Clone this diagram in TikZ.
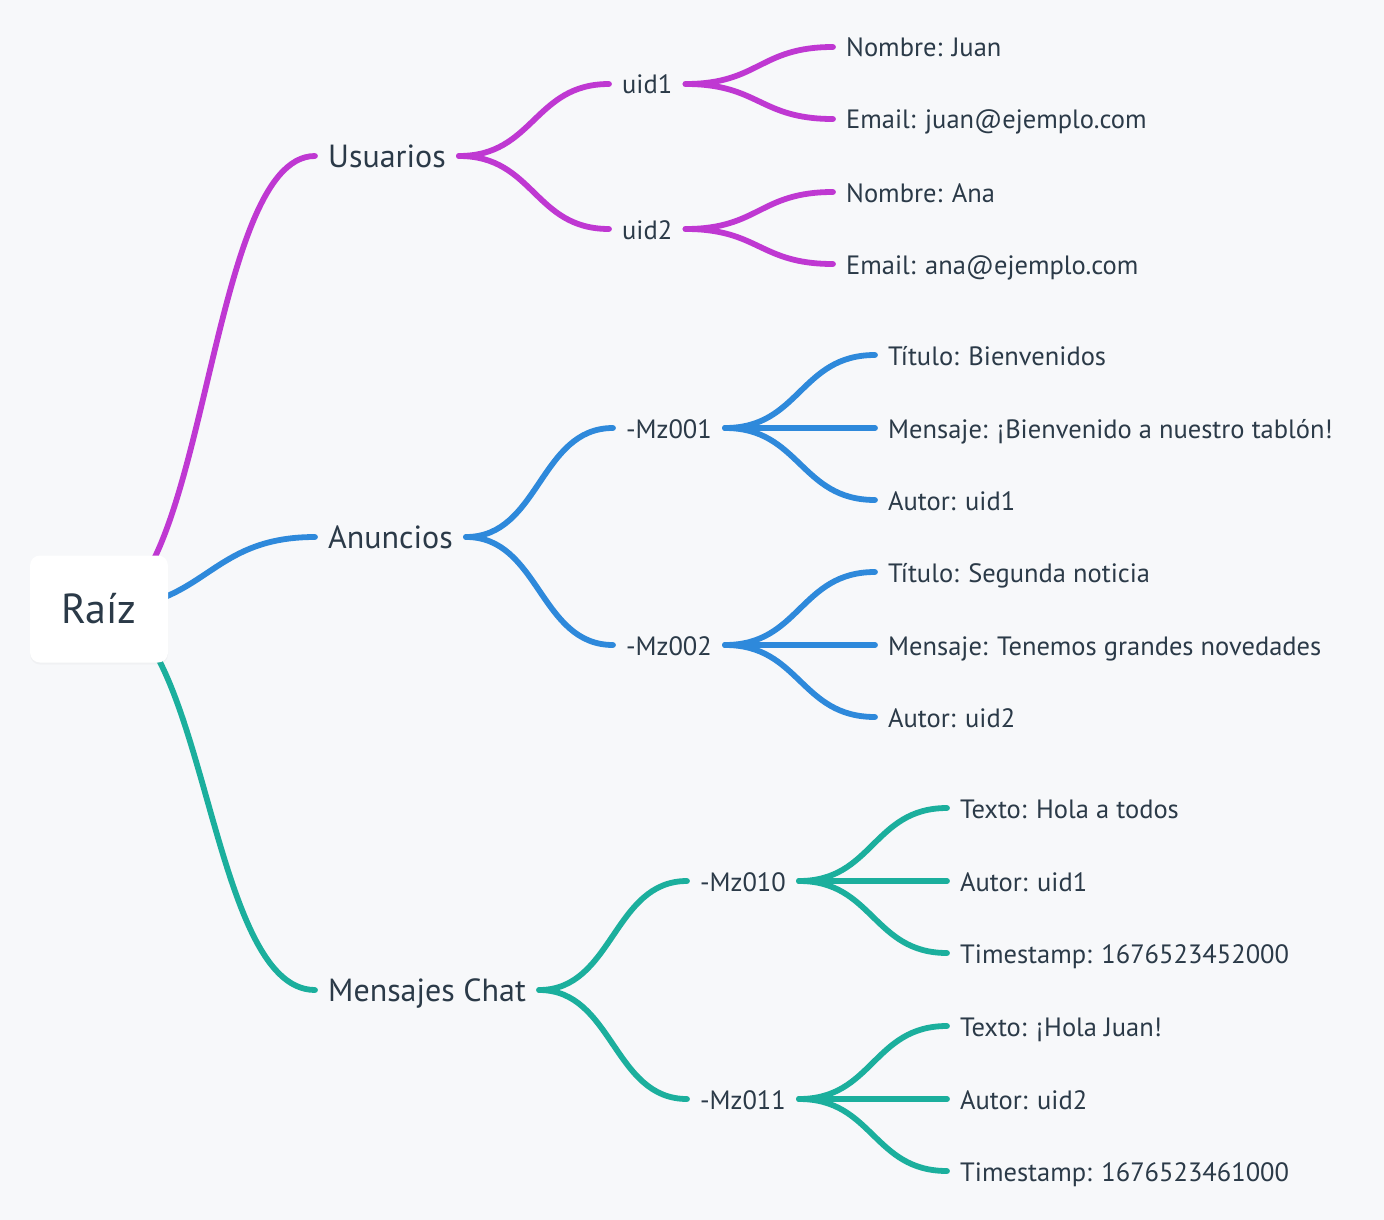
\documentclass[tikz,border=0pt]{standalone}
\usepackage{fontspec}
\setmainfont{PT Sans}
\usetikzlibrary{calc,backgrounds,shadows}
\definecolor{bgcol}{HTML}{F7F8FA}
\definecolor{inkcol}{HTML}{2B3A48}
\definecolor{usrcol}{HTML}{BF38D2}
\definecolor{anncol}{HTML}{2E89DB}
\definecolor{chatcol}{HTML}{1BAF9D}
\tikzset{
  mapcurve/.style = {to path = {let \p1 = (\tikztostart), \p2 = (\tikztotarget) in
      .. controls ({(\x1+\x2)/2},\y1) and ({(\x1+\x2)/2},\y2) .. (\tikztotarget)}},
  branch/.style = {line width = 5.8pt, line cap = round},
  rootbox/.style = {rounded corners = 10pt, fill = white, text = inkcol,
    minimum width = 138pt, minimum height = 107pt,
    text height = 28pt, text depth = 0pt,
    font = \fontsize{42}{48}\selectfont,
    drop shadow = {opacity = .05, shadow xshift = 0pt, shadow yshift = -2pt}},
  hub/.style = {anchor = west, inner xsep = 13pt, inner ysep = 0pt, text = inkcol,
    text height = 23pt, text depth = 0pt, font = \fontsize{32}{38}\selectfont},
  key/.style = {hub, text height = 20pt, font = \fontsize{26.5}{31}\selectfont},
  field/.style = {key}
}
\begin{document}
\begin{tikzpicture}[x = 1pt, y = -1pt]
  \begin{scope}[on background layer]
    \fill [bgcol] (0,0) rectangle (1384,1220);
  \end{scope}

  % root and first level
  \node [rootbox] (root) at (99,609) {Raíz};
  \node [hub] (usr) at (315,156) {Usuarios};
  \node [hub] (ann) at (315,537) {Anuncios};
  \node [hub] (chat) at (315,990) {Mensajes Chat};

  % Usuarios
  \node [key] (uid1) at (609,84) {uid1};
  \node [key] (uid2) at (609,229) {uid2};
  \node [field] (nom1) at (833,47) {Nombre: Juan};
  \node [field] (mail1) at (833,119) {Email: juan@ejemplo.com};
  \node [field] (nom2) at (833,192) {Nombre: Ana};
  \node [field] (mail2) at (833,264) {Email: ana@ejemplo.com};

  % Anuncios
  \node [key] (mz1) at (613,428) {-Mz001};
  \node [key] (mz2) at (613,645) {-Mz002};
  \node [field] (tit1) at (875,355) {Título: Bienvenidos};
  \node [field] (msg1) at (875,428) {Mensaje: ¡Bienvenido a nuestro tablón!};
  \node [field] (aut1) at (875,500) {Autor: uid1};
  \node [field] (tit2) at (875,572) {Título: Segunda noticia};
  \node [field] (msg2) at (875,645) {Mensaje: Tenemos grandes novedades};
  \node [field] (aut2) at (875,717) {Autor: uid2};

  % Mensajes Chat
  \node [key] (mz10) at (687,881) {-Mz010};
  \node [key] (mz11) at (687,1099) {-Mz011};
  \node [field] (txt1) at (947,808) {Texto: Hola a todos};
  \node [field] (aut3) at (947,881) {Autor: uid1};
  \node [field] (ts1) at (947,953) {Timestamp: 1676523452000};
  \node [field] (txt2) at (947,1026) {Texto: ¡Hola Juan!};
  \node [field] (aut4) at (947,1099) {Autor: uid2};
  \node [field] (ts2) at (947,1171) {Timestamp: 1676523461000};

  \begin{scope}[on background layer]
    \draw [branch, usrcol] (root.center) to [mapcurve] (usr.west);
    \draw [branch, anncol] (root.center) to [mapcurve] (ann.west);
    \draw [branch, chatcol] (root.center) to [mapcurve] (chat.west);

    \draw [branch, usrcol] (usr.east) to [mapcurve] (uid1.west);
    \draw [branch, usrcol] (usr.east) to [mapcurve] (uid2.west);
    \draw [branch, usrcol] (uid1.east) to [mapcurve] (nom1.west);
    \draw [branch, usrcol] (uid1.east) to [mapcurve] (mail1.west);
    \draw [branch, usrcol] (uid2.east) to [mapcurve] (nom2.west);
    \draw [branch, usrcol] (uid2.east) to [mapcurve] (mail2.west);

    \draw [branch, anncol] (ann.east) to [mapcurve] (mz1.west);
    \draw [branch, anncol] (ann.east) to [mapcurve] (mz2.west);
    \draw [branch, anncol] (mz1.east) to [mapcurve] (tit1.west);
    \draw [branch, anncol] (mz1.east) to [mapcurve] (msg1.west);
    \draw [branch, anncol] (mz1.east) to [mapcurve] (aut1.west);
    \draw [branch, anncol] (mz2.east) to [mapcurve] (tit2.west);
    \draw [branch, anncol] (mz2.east) to [mapcurve] (msg2.west);
    \draw [branch, anncol] (mz2.east) to [mapcurve] (aut2.west);

    \draw [branch, chatcol] (chat.east) to [mapcurve] (mz10.west);
    \draw [branch, chatcol] (chat.east) to [mapcurve] (mz11.west);
    \draw [branch, chatcol] (mz10.east) to [mapcurve] (txt1.west);
    \draw [branch, chatcol] (mz10.east) to [mapcurve] (aut3.west);
    \draw [branch, chatcol] (mz10.east) to [mapcurve] (ts1.west);
    \draw [branch, chatcol] (mz11.east) to [mapcurve] (txt2.west);
    \draw [branch, chatcol] (mz11.east) to [mapcurve] (aut4.west);
    \draw [branch, chatcol] (mz11.east) to [mapcurve] (ts2.west);
  \end{scope}
\end{tikzpicture}
\end{document}
